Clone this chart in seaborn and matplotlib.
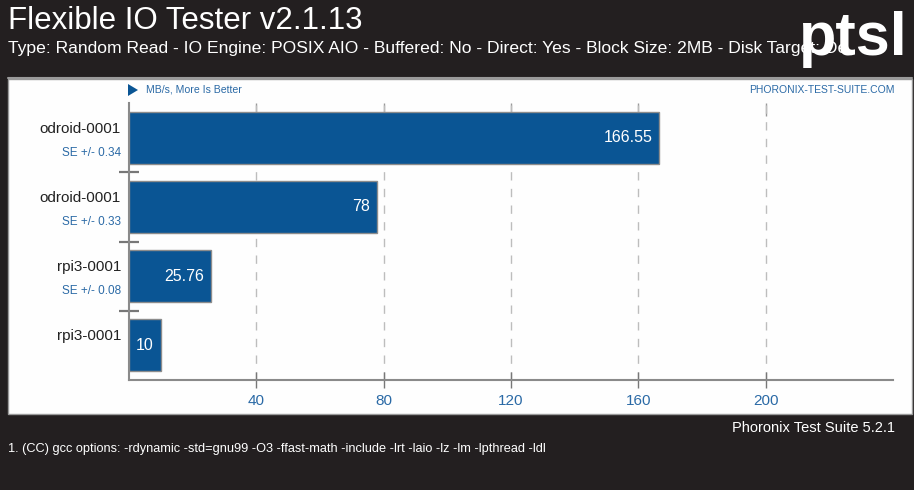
import matplotlib
matplotlib.use("Agg")
import matplotlib.pyplot as plt
import seaborn as sns
import pandas as pd
from matplotlib.patches import Rectangle, Polygon
from matplotlib.ticker import FixedLocator

# ---- data ----
systems = ["odroid-0001", "odroid-0001", "rpi3-0001", "rpi3-0001"]
values = [166.55, 78, 25.76, 10]
value_labels = ["166.55", "78", "25.76", "10"]
se_labels = ["SE +/- 0.34", "SE +/- 0.33", "SE +/- 0.08", None]
xticks = [40, 80, 120, 160, 200]

title = "Flexible IO Tester v2.1.13"
subtitle = ("Type: Random Read - IO Engine: POSIX AIO - Buffered: No - Direct: Yes - "
            "Block Size: 2MB - Disk Target: De")
unit_note = "MB/s, More Is Better"
site = "PHORONIX-TEST-SUITE.COM"
version = "Phoronix Test Suite 5.2.1"
footnote = ("1. (CC) gcc options: -rdynamic -std=gnu99 -O3 -ffast-math -include -lrt "
            "-laio -lz -lm -lpthread -ldl")

DARK = "#231f20"
BAR = "#0a5594"
BLUE = "#2b6aa6"

sns.set_theme(style="white")
plt.rcParams["font.family"] = ["Liberation Sans", "DejaVu Sans"]

W, H = 914, 490
fig = plt.figure(figsize=(W / 100, H / 100), dpi=100, facecolor=DARK)

def fx(px):
    return px / W

def fy(py):
    return 1 - py / H

# white panel
fig.patches.append(Rectangle((fx(8), fy(414)), fx(912 - 8), (414 - 79) / H,
                             transform=fig.transFigure, facecolor="#fefefe",
                             edgecolor="#9a9a9a", lw=1, zorder=-10))

ax = fig.add_axes([fx(129), fy(380), fx(893 - 129), (380 - 103) / H])
ax.set_facecolor("none")
ax.set_zorder(2)

df = pd.DataFrame({"pos": [str(i) for i in range(len(values))], "value": values})
sns.barplot(data=df, x="value", y="pos", orient="h", color=BAR, width=0.75,
            edgecolor="#8c8c8c", linewidth=1.0, saturation=1, ax=ax, zorder=3)

ax.set_xlim(0, 240)
ax.set_ylim(3.5, -0.5)
ax.set_xlabel("")
ax.set_ylabel("")
ax.xaxis.set_major_locator(FixedLocator(xticks))
ax.set_xticklabels([str(t) for t in xticks], color=BLUE, fontsize=11)
ax.tick_params(axis="x", which="major", direction="inout", length=12, width=1,
               color="#777777", pad=4, top=False, bottom=True)
ax.set_yticks([])
ax.yaxis.set_minor_locator(FixedLocator([0.5, 1.5, 2.5]))
ax.tick_params(axis="y", which="minor", direction="inout", length=14, width=1.6,
               color="#777777", left=True)
ax.grid(axis="x", which="major", color="#bdbdbd", linestyle=(0, (6, 6)), lw=1,
        zorder=0)
for s in ["top", "right"]:
    ax.spines[s].set_visible(False)
for s in ["left", "bottom"]:
    ax.spines[s].set_color("#8a8a8a")
    ax.spines[s].set_linewidth(1.5)

# top inward ticks
sec = ax.secondary_xaxis("top")
sec.xaxis.set_major_locator(FixedLocator(xticks))
sec.tick_params(direction="in", length=9, width=1, color="#999999",
                labeltop=False)
sec.spines["top"].set_visible(False)

# labels
for i, (name, se, v, vl) in enumerate(zip(systems, se_labels, values, value_labels)):
    ax.annotate(name, xy=(0, i - 0.13), xycoords=("axes fraction", "data"),
                xytext=(-8, 0), textcoords="offset pixels", ha="right",
                va="center", fontsize=11, color="#222222")
    if se:
        ax.annotate(se, xy=(0, i + 0.22), xycoords=("axes fraction", "data"),
                    xytext=(-8, 0), textcoords="offset pixels", ha="right",
                    va="center", fontsize=8.5, color=BLUE)
    ax.annotate(vl, xy=(v, i), xycoords="data", xytext=(-7, 0),
                textcoords="offset pixels", ha="right", va="center",
                fontsize=11.5, color="white", zorder=5)

# header
fig.text(fx(8), fy(21), title, color="white", fontsize=22.5,
         va="center", ha="left")
fig.text(fx(8), fy(48), subtitle, color="white", fontsize=12.6,
         va="center", ha="left")
fig.text(fx(853), fy(40), "ptsl", color="white", fontsize=44, fontweight="bold",
         va="center", ha="center")
fig.lines.append(plt.Line2D([fx(8), fx(912)], [fy(78), fy(78)],
                            transform=fig.transFigure, color="#9a9a9a", lw=1.5))

# top annotations
fig.patches.append(Polygon([[fx(128), fy(84)], [fx(128), fy(96)], [fx(138), fy(90)]],
                           closed=True, transform=fig.transFigure,
                           facecolor=BAR, edgecolor="none"))
fig.text(fx(146), fy(90), unit_note, color=BLUE, fontsize=7.6,
         va="center", ha="left")
fig.text(fx(895), fy(90), site, color=BLUE, fontsize=7.5,
         va="center", ha="right")

# footer
fig.text(fx(895), fy(428), version, color="white", fontsize=10.5,
         va="center", ha="right")
fig.text(fx(8), fy(449), footnote, color="white", fontsize=9.2,
         va="center", ha="left")

fig.savefig("out.png", dpi=100, facecolor=DARK)
